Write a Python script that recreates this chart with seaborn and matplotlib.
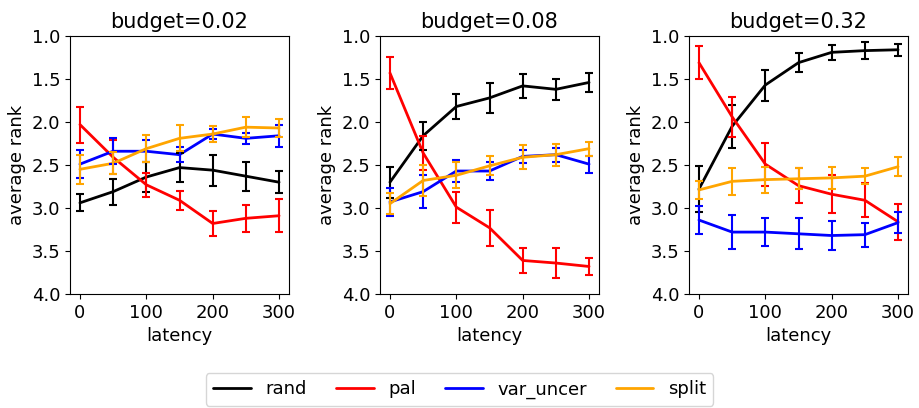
import numpy as np
import pandas as pd
import matplotlib
matplotlib.use("Agg")
import matplotlib.pyplot as plt
import seaborn as sns

latency = [0, 50, 100, 150, 200, 250, 300]
budgets = ["0.02", "0.08", "0.32"]
methods = ["rand", "pal", "var_uncer", "split"]
colors = ["black", "red", "blue", "orange"]

# mean ranks per budget
rand_mean = [[2.94, 2.81, 2.64, 2.53, 2.56, 2.63, 2.70],
             [2.70, 2.16, 1.82, 1.72, 1.58, 1.62, 1.54],
             [2.78, 2.05, 1.57, 1.31, 1.19, 1.17, 1.16]]
pal_mean = [[2.03, 2.41, 2.73, 2.91, 3.18, 3.12, 3.09],
            [1.43, 2.36, 2.99, 3.23, 3.61, 3.64, 3.68],
            [1.31, 1.94, 2.49, 2.74, 2.84, 2.91, 3.16]]
var_mean = [[2.49, 2.34, 2.34, 2.38, 2.14, 2.19, 2.16],
            [2.93, 2.81, 2.57, 2.57, 2.40, 2.38, 2.49],
            [3.14, 3.28, 3.28, 3.30, 3.32, 3.31, 3.17]]
split_mean = [[2.55, 2.48, 2.31, 2.19, 2.14, 2.06, 2.07],
              [2.95, 2.68, 2.62, 2.51, 2.41, 2.38, 2.31],
              [2.79, 2.69, 2.67, 2.66, 2.65, 2.63, 2.52]]

# error bar half-widths
rand_err = [[0.10, 0.15, 0.17, 0.17, 0.18, 0.17, 0.13],
            [0.18, 0.16, 0.15, 0.17, 0.14, 0.12, 0.11],
            [0.27, 0.25, 0.18, 0.11, 0.09, 0.10, 0.07]]
pal_err = [[0.21, 0.20, 0.14, 0.11, 0.14, 0.16, 0.19],
           [0.19, 0.20, 0.18, 0.21, 0.15, 0.17, 0.10],
           [0.19, 0.23, 0.25, 0.20, 0.22, 0.20, 0.21]]
var_err = [[0.16, 0.15, 0.13, 0.09, 0.06, 0.06, 0.13],
           [0.16, 0.19, 0.13, 0.11, 0.08, 0.08, 0.10],
           [0.16, 0.20, 0.16, 0.18, 0.17, 0.14, 0.12]]
split_err = [[0.17, 0.13, 0.16, 0.15, 0.09, 0.12, 0.11],
             [0.12, 0.18, 0.15, 0.11, 0.14, 0.13, 0.08],
             [0.10, 0.16, 0.15, 0.12, 0.13, 0.09, 0.11]]

means = {"rand": rand_mean, "pal": pal_mean, "var_uncer": var_mean, "split": split_mean}
errs = {"rand": rand_err, "pal": pal_err, "var_uncer": var_err, "split": split_err}

rows = []
for bi, b in enumerate(budgets):
    for m in methods:
        for li, lat in enumerate(latency):
            rows.append({"budget": b, "method": m, "latency": lat,
                         "rank": means[m][bi][li], "err": errs[m][bi][li]})
df = pd.DataFrame(rows)

sns.set_style("ticks", rc={"axes.edgecolor": "black", "text.color": "black",
                           "axes.labelcolor": "black", "xtick.color": "black",
                           "ytick.color": "black"})
plt.rcParams["font.family"] = ["DejaVu Sans"]

fig = plt.figure(figsize=(9.19, 4.08), dpi=100)
lefts = [70, 380, 689]
axes = []
for i, b in enumerate(budgets):
    ax = fig.add_axes([lefts[i] / 919, 1 - 294 / 408, 219 / 919, (294 - 36) / 408])
    sub = df[df.budget == b]
    sns.lineplot(data=sub, x="latency", y="rank", hue="method", hue_order=methods,
                 palette=colors, linewidth=2, ax=ax, legend=(i == 0), errorbar=None)
    for m, c in zip(methods, colors):
        s = sub[sub.method == m]
        ax.errorbar(s["latency"], s["rank"], yerr=s["err"], fmt="none",
                    ecolor=c, elinewidth=1.5, capsize=3.2, capthick=1.5)
    ax.set_ylim(4.0, 1.0)
    ax.set_yticks([1.0, 1.5, 2.0, 2.5, 3.0, 3.5, 4.0])
    ax.set_xticks([0, 100, 200, 300])
    ax.set_xlim(-15, 315)
    ax.set_title(f"budget={b}", fontsize=15)
    ax.set_xlabel("latency", fontsize=13)
    ax.set_ylabel("average rank", fontsize=13)
    ax.tick_params(labelsize=13, color="black")
    for sp in ax.spines.values():
        sp.set_visible(True)
        sp.set_color("black")
    axes.append(ax)

handles, labels = axes[0].get_legend_handles_labels()
axes[0].get_legend().remove()
fig.legend(handles, labels, loc="lower center", ncol=4, bbox_to_anchor=(0.5, -0.017),
           fontsize=13, handlelength=2.1, columnspacing=1.6, frameon=True)

fig.savefig("out.png", dpi=100)
